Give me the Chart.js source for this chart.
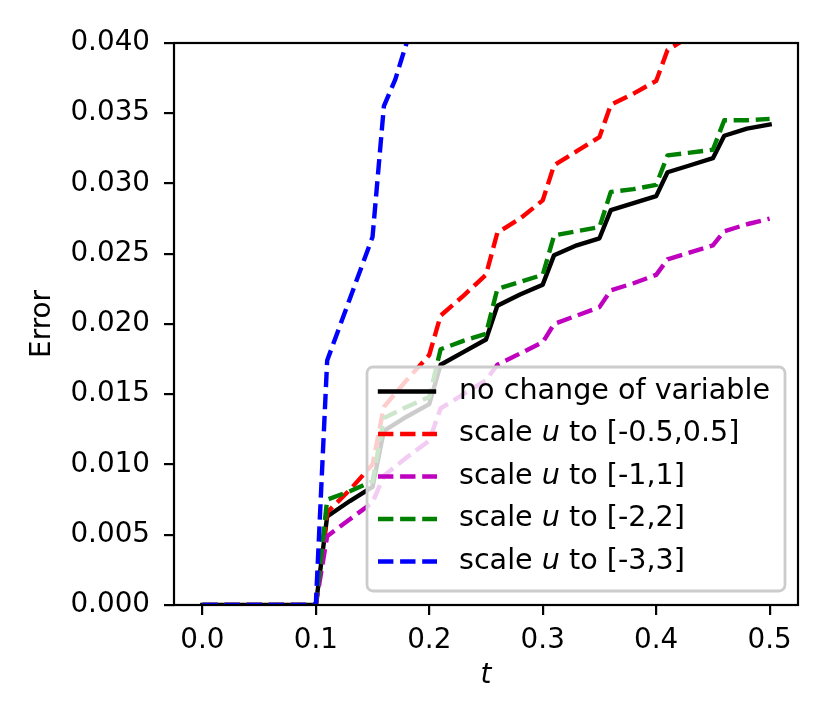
<!DOCTYPE html>
<html>
<head>
<meta charset="utf-8">
<script src="https://cdn.jsdelivr.net/npm/chart.js@4.4.1/dist/chart.umd.min.js"></script>
<style>
html,body{margin:0;padding:0;background:#fff;}
canvas{display:block;}
</style>
</head>
<body>
<canvas id="c" width="830" height="727" style="width:830px;height:727px"></canvas>
<script>
// ---- data ----
const t = [0, 0.1, 0.11, 0.13, 0.15, 0.16, 0.18, 0.2, 0.21, 0.23, 0.25, 0.26, 0.28, 0.3, 0.31, 0.33, 0.35, 0.36, 0.38, 0.4, 0.41, 0.43, 0.45, 0.46, 0.48, 0.5];
const noChange = [0, 0, 0.0063, 0.0074, 0.0084, 0.0124, 0.0134, 0.0143, 0.0171, 0.0180, 0.0189, 0.0213, 0.0221, 0.0228, 0.0249, 0.0256, 0.0261, 0.0281, 0.0286, 0.0291, 0.0308, 0.0313, 0.0318, 0.0334, 0.0339, 0.0342];
const scaleHalf = [0, 0, 0.0066, 0.0082, 0.0100, 0.0141, 0.0160, 0.0178, 0.0206, 0.0220, 0.0235, 0.0265, 0.0275, 0.0288, 0.0313, 0.0323, 0.0333, 0.0356, 0.0364, 0.0373, 0.0395, 0.0405, 0.0414, 0.0437, 0.0446, 0.0453];
const scaleOne = [0, 0, 0.0049, 0.0061, 0.0073, 0.0092, 0.0105, 0.0117, 0.0140, 0.0150, 0.0160, 0.0171, 0.0179, 0.0187, 0.0200, 0.0206, 0.0212, 0.0224, 0.0229, 0.0235, 0.0246, 0.0251, 0.0256, 0.0266, 0.0271, 0.0275];
const scaleTwo = [0, 0, 0.0075, 0.0081, 0.0088, 0.0133, 0.0141, 0.0148, 0.0182, 0.0188, 0.0193, 0.0225, 0.0230, 0.0235, 0.0263, 0.0266, 0.0269, 0.0294, 0.0296, 0.0299, 0.0320, 0.0322, 0.0324, 0.0345, 0.0345, 0.0346];
const tBlue = [0, 0.1, 0.11, 0.13, 0.15, 0.16, 0.17, 0.18, 0.19, 0.2];
const scaleThree = [0, 0, 0.0174, 0.0218, 0.0262, 0.0355, 0.0374, 0.0400, 0.0425, 0.0450];

const seriesNames = ['no change of variable', 'scale u to [-0.5,0.5]', 'scale u to [-1,1]', 'scale u to [-2,2]', 'scale u to [-3,3]'];
const legendParts = [
  ['no change of variable', null, ''],
  ['scale ', 'u', ' to [-0.5,0.5]'],
  ['scale ', 'u', ' to [-1,1]'],
  ['scale ', 'u', ' to [-2,2]'],
  ['scale ', 'u', ' to [-3,3]']
];
const xTicks = [0, 0.1, 0.2, 0.3, 0.4, 0.5];
const yTicks = [0, 0.005, 0.01, 0.015, 0.02, 0.025, 0.03, 0.035, 0.04];
const xLabel = 't';
const yLabel = 'Error';

// ---- styling ----
const FONT = '"DejaVu Sans", sans-serif';
const FS = 27.8;
const LFS = 28.6;
const LW = 4.4;
const DASH = [15.4, 6.7];
const colors = ['#000000', '#ff0000', '#bf00bf', '#008000', '#0000ff'];
const dashes = [[], DASH, DASH, DASH, DASH];

function pts(xs, ys) { return xs.map((x, i) => ({x: x, y: ys[i]})); }
const seriesData = [pts(t, noChange), pts(t, scaleHalf), pts(t, scaleOne), pts(t, scaleTwo), pts(tBlue, scaleThree)];

const datasets = seriesData.map((d, i) => ({
  label: seriesNames[i],
  data: d,
  borderColor: colors[i],
  backgroundColor: colors[i],
  borderWidth: LW,
  borderDash: dashes[i],
  borderCapStyle: i === 0 ? 'square' : 'butt',
  borderJoinStyle: 'round',
  pointRadius: 0,
  tension: 0,
  fill: false,
  clip: 0,
  order: 5 - i
}));

const decorPlugin = {
  id: 'decor',
  afterDatasetsDraw(chart) {
    const {ctx, chartArea: a} = chart;
    ctx.save();
    ctx.strokeStyle = '#000';
    ctx.lineWidth = 2.2;
    ctx.lineJoin = 'miter';
    ctx.strokeRect(a.left, a.top, a.right - a.left, a.bottom - a.top);
    ctx.restore();
  },
  afterDraw(chart) {
    const {ctx, chartArea: a} = chart;
    ctx.save();
    // axis titles
    ctx.fillStyle = '#000';
    ctx.textAlign = 'center';
    ctx.textBaseline = 'middle';
    ctx.font = 'italic ' + FS + 'px ' + FONT;
    ctx.fillText(xLabel, (a.left + a.right) / 2, 676);
    ctx.save();
    ctx.translate(43, (a.top + a.bottom) / 2);
    ctx.rotate(-Math.PI / 2);
    ctx.font = FS + 'px ' + FONT;
    ctx.fillText(yLabel, 0, 0);
    ctx.restore();

    // legend
    const bx = 367, by = 367, bw = 418, bh = 224, r = 6;
    ctx.beginPath();
    ctx.moveTo(bx + r, by);
    ctx.lineTo(bx + bw - r, by);
    ctx.arcTo(bx + bw, by, bx + bw, by + r, r);
    ctx.lineTo(bx + bw, by + bh - r);
    ctx.arcTo(bx + bw, by + bh, bx + bw - r, by + bh, r);
    ctx.lineTo(bx + r, by + bh);
    ctx.arcTo(bx, by + bh, bx, by + bh - r, r);
    ctx.lineTo(bx, by + r);
    ctx.arcTo(bx, by, bx + r, by, r);
    ctx.closePath();
    ctx.fillStyle = 'rgba(255,255,255,0.8)';
    ctx.fill();
    ctx.strokeStyle = '#cccccc';
    ctx.lineWidth = 2.78;
    ctx.stroke();

    const rowY0 = 391.5, rowDY = 42.5;
    for (let i = 0; i < legendParts.length; i++) {
      const y = rowY0 + i * rowDY;
      ctx.beginPath();
      ctx.strokeStyle = colors[i];
      ctx.lineWidth = LW;
      ctx.setLineDash(dashes[i]);
      ctx.lineCap = i === 0 ? 'square' : 'butt';
      ctx.moveTo(i === 0 ? 380 : 378, y);
      ctx.lineTo(i === 0 ? 434 : 437, y);
      ctx.stroke();
      ctx.setLineDash([]);
      ctx.fillStyle = '#000';
      ctx.textAlign = 'left';
      ctx.textBaseline = 'middle';
      let x = 459;
      const parts = legendParts[i];
      ctx.font = LFS + 'px ' + FONT;
      ctx.fillText(parts[0], x, y);
      x += ctx.measureText(parts[0]).width;
      if (parts[1]) {
        ctx.font = 'italic ' + LFS + 'px ' + FONT;
        ctx.fillText(parts[1], x, y);
        x += ctx.measureText(parts[1]).width;
        ctx.font = LFS + 'px ' + FONT;
        ctx.fillText(parts[2], x, y);
      }
    }
    ctx.restore();
  }
};

new Chart(document.getElementById('c'), {
  type: 'line',
  data: { datasets: datasets },
  options: {
    responsive: false,
    animation: false,
    events: [],
    layout: { padding: { left: 0, top: 43, right: 32, bottom: 0 } },
    plugins: { legend: { display: false }, tooltip: { enabled: false }, title: { display: false } },
    scales: {
      x: {
        type: 'linear',
        min: -0.025,
        max: 0.525,
        afterBuildTicks(s) { s.ticks = xTicks.map(v => ({value: v})); },
        afterFit(s) { s.height = 122; },
        border: { display: false },
        grid: { drawOnChartArea: false, drawTicks: true, tickLength: 10, tickWidth: 2.2, tickColor: '#000', color: '#000', lineWidth: 2.2 },
        ticks: { color: '#000', font: { family: FONT, size: FS }, padding: 9, maxRotation: 0, autoSkip: false,
                 callback: v => Number(v).toFixed(1) }
      },
      y: {
        type: 'linear',
        min: 0,
        max: 0.04,
        afterBuildTicks(s) { s.ticks = yTicks.map(v => ({value: v})); },
        afterFit(s) { s.width = 174; },
        border: { display: false },
        grid: { drawOnChartArea: false, drawTicks: true, tickLength: 10, tickWidth: 2.2, tickColor: '#000', color: '#000', lineWidth: 2.2 },
        ticks: { color: '#000', font: { family: FONT, size: FS }, padding: 14, autoSkip: false,
                 callback: v => Number(v).toFixed(3) }
      }
    }
  },
  plugins: [decorPlugin]
});
</script>
</body>
</html>
